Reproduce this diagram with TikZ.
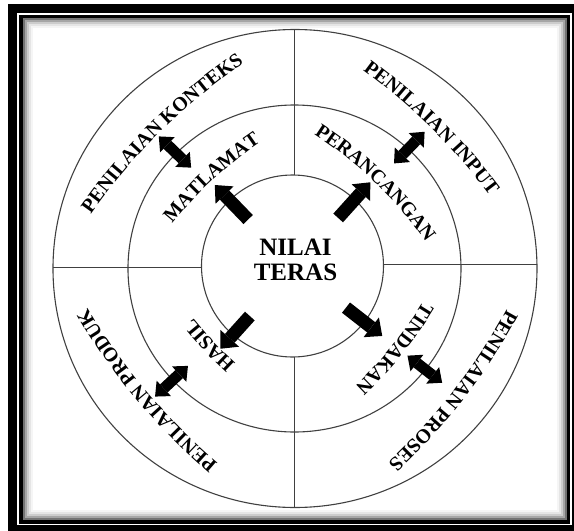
\documentclass[tikz,border=0pt]{standalone}
\usepackage{fontspec}
\setmainfont{Liberation Serif}
\usepackage{tikz}
\usetikzlibrary{arrows.meta, calc, decorations.text}

\newcommand{\ringfont}{\fontsize{20}{20}\selectfont\bfseries}

\begin{document}
\begin{tikzpicture}[
  x=1pt, y=1pt,
  ring/.style={draw=black!75, line width=1.1pt},
  divider/.style={draw=black!75, line width=1pt},
  outarrow/.style={line width=13pt, -{Triangle[length=14pt, width=25pt, line width=0pt]}},
  twoarrow/.style={line width=11pt, {Triangle[length=12pt, width=21pt, line width=0pt]}-{Triangle[length=12pt, width=21pt, line width=0pt]}},
  ringtext/.style={decorate, decoration={text along path, text align=center, text={|\ringfont|#1}}},
]
\useasboundingbox (-294,-264) rectangle (280,267);
\coordinate (O) at (0,0);

% Frame with inner shadow
\draw[line width=9pt] (-281,258.5) rectangle (282.5,-262.5);
\draw[line width=3.5pt] (-273,250.5) rectangle (274.5,-255);
\foreach \d/\c in {1/55, 3/35, 5/20, 7/10, 9/4}
  \draw[black!\c, line width=2pt] (-271.25+\d,248.75-\d) rectangle (272.75-\d,-253.25+\d);

% Rings
\draw[ring] ($(O)+(1,-1.5)$) ellipse[x radius=242, y radius=239];
\draw[ring] ($(O)+(0.5,-1.5)$) ellipse[x radius=166.5, y radius=163.5];
\draw[ring] ($(O)+(-1.5,1)$) circle[radius=91];

% Quadrant dividers
\draw[divider] ($(O)+(1,92)$) -- ($(O)+(1,237)$);
\draw[divider] ($(O)+(0.5,-90)$) -- ($(O)+(0.5,-240)$);
\draw[divider] ($(O)+(-92,0)$) -- ($(O)+(-241,0)$);
\draw[divider] ($(O)+(89,2.5)$) -- ($(O)+(243,2.5)$);

% Centre
\node[font=\fontsize{25}{25}\selectfont\bfseries, align=center] (core) at (1.5,7) {NILAI\\TERAS};

% Arrows out of the centre
\draw[outarrow] ($(O)+(134:66)$) -- ($(O)+(134:114)$);
\draw[outarrow] ($(O)+(48:66)$) -- ($(O)+(48:114)$);
\draw[outarrow] ($(O)+(-38:66)$) -- ($(O)+(-38:112)$);
\draw[outarrow] ($(O)+(-132:66)$) -- ($(O)+(-132:110)$);

% Arrows across the middle ring
\draw[twoarrow] ($(O)+(136:143)$) -- ($(O)+(136:188)$);
\draw[twoarrow] ($(O)+(46:144)$) -- ($(O)+(46:188)$);
\draw[twoarrow] ($(O)+(-38:144)$) -- ($(O)+(-38:188)$);
\draw[twoarrow] ($(O)+(-137:145)$) -- ($(O)+(-137:190)$);

% Inner ring labels
\path[ringtext={MATLAMAT}] ($(O)+(132.6:119-400)$) ++(147.6:400) arc[start angle=147.6, end angle=117.6, radius=400];
\path[ringtext={PERANCANGAN}] ($(O)+(46:117-400)$) ++(61:400) arc[start angle=61, end angle=31, radius=400];
\path[ringtext={TINDAKAN}] ($(O)+(-39:126-400)$) ++(-24:400) arc[start angle=-24, end angle=-54, radius=400];
\path[ringtext={HASIL}] ($(O)+(-137:110-400)$) ++(-122:400) arc[start angle=-122, end angle=-152, radius=400];

% Outer ring labels
\path[ringtext={PENILAIAN KONTEKS}] ($(O)+(134.6:190-600)$) ++(149.6:600) arc[start angle=149.6, end angle=119.6, radius=600];
\path[ringtext={PENILAIAN INPUT}] ($(O)+(45.3:195-600)$) ++(60.3:600) arc[start angle=60.3, end angle=30.3, radius=600];
\path[ringtext={PENILAIAN PROSES}] ($(O)+(-37.8:202-600)$) ++(-22.8:600) arc[start angle=-22.8, end angle=-52.8, radius=600];
\path[ringtext={PENILAIAN PRODUK}] ($(O)+(-140:193-600)$) ++(-125:600) arc[start angle=-125, end angle=-155, radius=600];

\end{tikzpicture}
\end{document}
